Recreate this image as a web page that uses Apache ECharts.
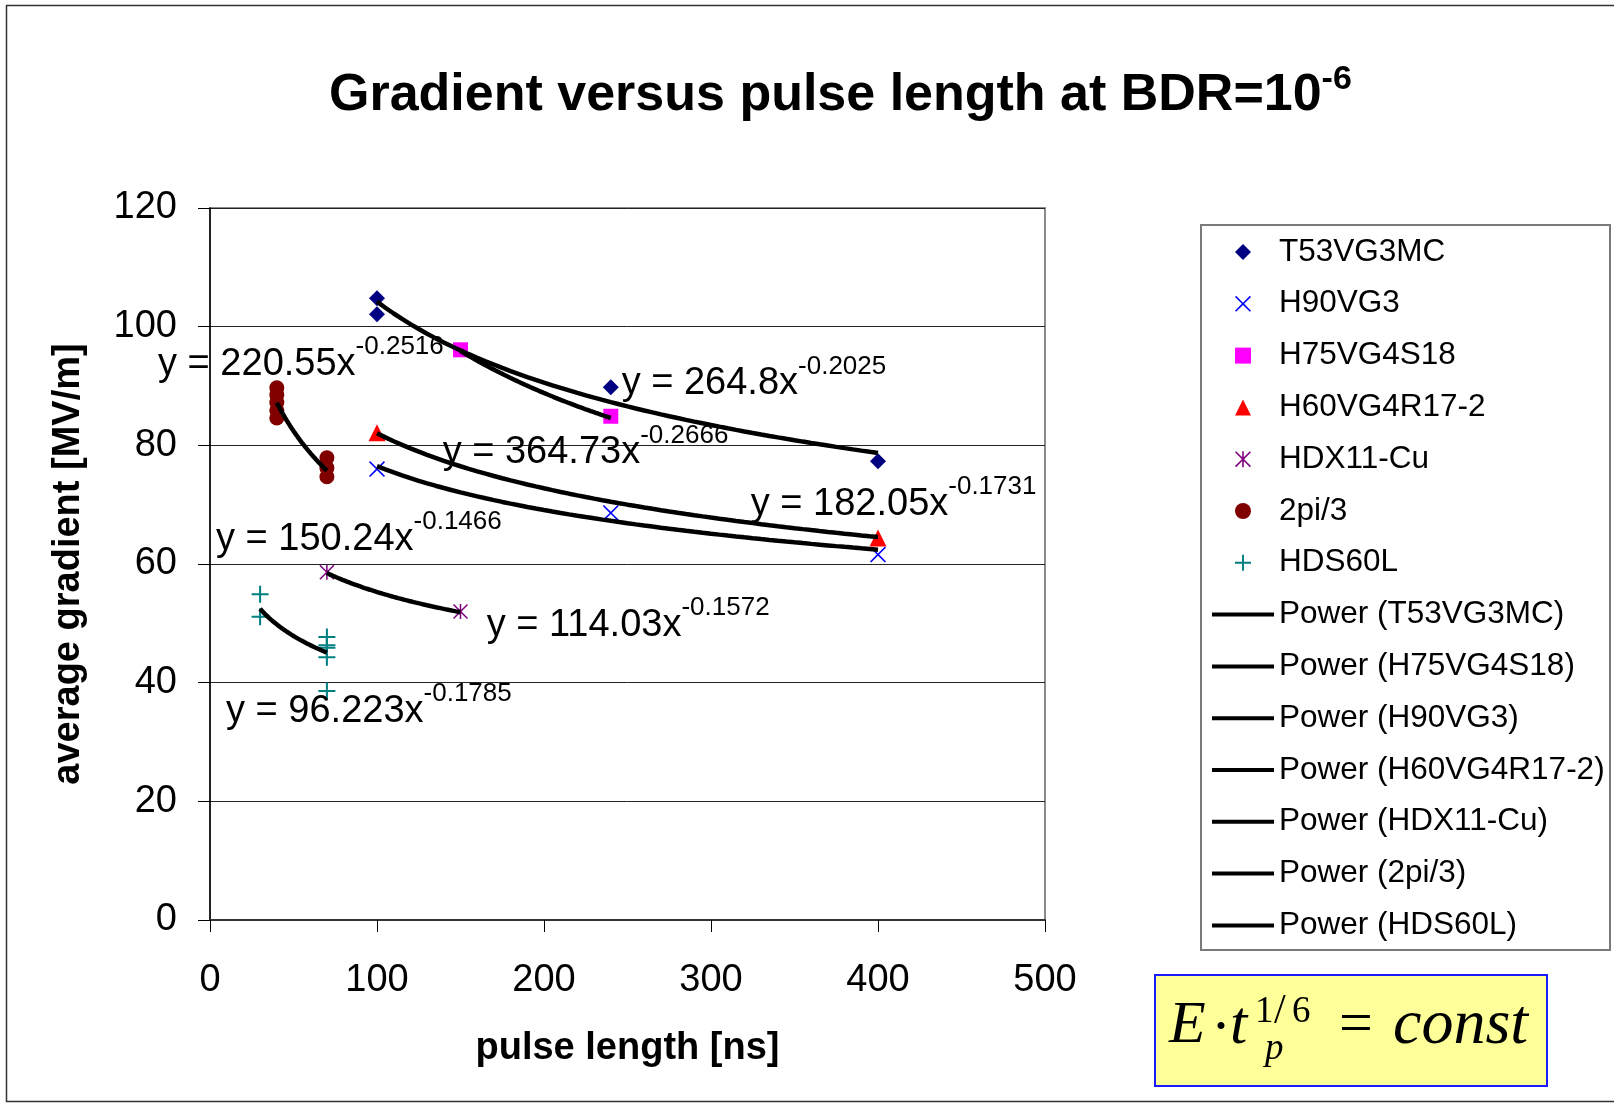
<!DOCTYPE html>
<html>
<head>
<meta charset="utf-8">
<script src="https://cdn.jsdelivr.net/npm/echarts@6/dist/echarts.min.js"></script>
<style>
html, body { margin: 0; padding: 0; background: #fff; }
#chart { width: 1614px; height: 1103px; }
</style>
</head>
<body>
<div id="chart"></div>
<script>
// ---- measured structures: gradient [MV/m] at pulse length [ns] ----
const seriesNames = ['T53VG3MC', 'H90VG3', 'H75VG4S18', 'H60VG4R17-2', 'HDX11-Cu', '2pi/3', 'HDS60L'];
const t53vg3mc = [[100, 104.8], [100, 102.1], [240, 89.8], [400, 77.3]];
const h90vg3 = [[100, 76.0], [240, 68.6], [400, 61.6]];
const h75vg4s18 = [[150, 96.1], [240, 84.9]];
const h60vg4r17 = [[100, 82.1], [400, 64.4]];
const hdx11cu = [[70, 58.6], [150, 52.0]];
const twoPi3 = [[40, 89.7], [40, 88.5], [40, 87.2], [40, 85.9], [40, 84.6], [70, 77.9], [70, 76.2], [70, 74.7]];
const hds60l = [[30, 54.9], [30, 51.1], [70, 47.7], [70, 46.3], [70, 45.9], [70, 44.3], [70, 38.6]];
const seriesData = [t53vg3mc, h90vg3, h75vg4s18, h60vg4r17, hdx11cu, twoPi3, hds60l];

// ---- power-law trend lines y = a * x^b ----
const fitNames = ['Power (T53VG3MC)', 'Power (H75VG4S18)', 'Power (H90VG3)', 'Power (H60VG4R17-2)',
                  'Power (HDX11-Cu)', 'Power (2pi/3)', 'Power (HDS60L)'];
const fitA = [264.8, 364.73, 150.24, 182.05, 114.03, 220.55, 96.223];
const fitB = [-0.2025, -0.2666, -0.1466, -0.1731, -0.1572, -0.2516, -0.1785];
const fitFrom = [100, 150, 100, 100, 70, 40, 30];
const fitTo = [400, 240, 400, 400, 150, 70, 70];

// ---- axis ticks ----
const xTicks = [0, 100, 200, 300, 400, 500];
const yTicks = [0, 20, 40, 60, 80, 100, 120];

// ---- styling / layout ----
const FONT = "'Liberation Sans', Arial, sans-serif";
const SERIF = "'Liberation Serif', 'Times New Roman', serif";
const markerColors = ['#000080', '#0000FF', '#FF00FF', '#FF0000', '#800080', '#800000', '#008080'];
const markerSymbols = [
  'path://M50,0L100,50L50,100L0,50Z',
  'path://M0,7L7,0L50,43L93,0L100,7L57,50L100,93L93,100L50,57L7,100L0,93L43,50Z',
  'path://M0,0H100V100H0Z',
  'path://M50,0L100,100L0,100Z',
  'path://M0,7L7,0L50,43L93,0L100,7L57,50L100,93L93,100L50,57L7,100L0,93L43,50Z M45,0H55V100H45Z',
  'circle',
  'path://M44,0H56V44H100V56H56V100H44V56H0V44H44Z'
];
const markerSizes = [16, 16, 15, 17, 15, 15, 17];
// where each equation label sits (data coordinates of its left/middle point)
const eqAnchor = [[246.5, 90.4], [139.3, 78.8], [3.6, 64.2], [323.8, 70.1], [165.7, 49.7], [-31.1, 93.7], [9.6, 35.2]];

const GRID = { left: 210, top: 208, width: 835, height: 712 };

function fitCurve(i) {
  const pts = [];
  const n = 60;
  for (let k = 0; k <= n; k++) {
    const x = fitFrom[i] + (fitTo[i] - fitFrom[i]) * k / n;
    pts.push([x, fitA[i] * Math.pow(x, fitB[i])]);
  }
  return pts;
}

const series = [];
seriesNames.forEach((name, i) => {
  series.push({
    name: name,
    type: 'scatter',
    data: seriesData[i],
    symbol: markerSymbols[i],
    symbolSize: markerSizes[i],
    itemStyle: { color: markerColors[i], opacity: 1 },
    z: 2,
    silent: true
  });
});
fitNames.forEach((name, i) => {
  series.push({
    name: name,
    type: 'line',
    data: fitCurve(i),
    symbol: 'none',
    showSymbol: false,
    smooth: false,
    lineStyle: { color: '#000', width: 4.5 },
    itemStyle: { color: '#000' },
    z: 3,
    silent: true
  });
});
series.push({
  name: 'equations',
  type: 'scatter',
  data: eqAnchor,
  symbolSize: 0,
  clip: false,
  silent: true,
  z: 4,
  itemStyle: { color: '#000', opacity: 1 },
  label: {
    show: true,
    position: 'right',
    distance: 0,
    color: '#000',
    opacity: 1,
    formatter: (p) => '{m|y = ' + String(fitA[p.dataIndex]) + 'x}{s|' + String(fitB[p.dataIndex]) + '}',
    rich: {
      m: { fontFamily: FONT, fontSize: 38, lineHeight: 38, color: '#000' },
      s: { fontFamily: FONT, fontSize: 26, lineHeight: 26, color: '#000', padding: [0, 0, 34, 0] }
    }
  }
});

const legendData = seriesNames.map(n => ({ name: n }))
  .concat(fitNames.map(n => ({ name: n, icon: 'path://M0,0H62V4H0Z' })));

const serifText = (txt, x, y, font, align) => ({
  type: 'text', x: x, y: y,
  style: { text: txt, font: font, fill: '#000', align: align, textAlign: align, verticalAlign: 'middle', textVerticalAlign: 'middle' }
});

const option = {
  backgroundColor: '#fff',
  animation: false,
  grid: Object.assign({ show: true, borderColor: '#8a8a8a', borderWidth: 2, backgroundColor: 'transparent' }, GRID),
  xAxis: {
    type: 'value', min: xTicks[0], max: xTicks[xTicks.length - 1], interval: 100,
    name: 'pulse length [ns]', nameLocation: 'middle', nameGap: 110,
    nameTextStyle: { fontFamily: FONT, fontSize: 38, fontWeight: 'bold', color: '#000' },
    axisLine: { show: true, lineStyle: { color: '#333', width: 2 } },
    axisTick: { show: true, inside: false, length: 12, lineStyle: { color: '#000', width: 1 } },
    axisLabel: { fontFamily: FONT, fontSize: 38, color: '#000', margin: 42 },
    splitLine: { show: false }
  },
  yAxis: {
    type: 'value', min: yTicks[0], max: yTicks[yTicks.length - 1], interval: 20,
    name: 'average gradient [MV/m]', nameLocation: 'middle', nameGap: 122,
    nameTextStyle: { fontFamily: FONT, fontSize: 38, fontWeight: 'bold', color: '#000' },
    axisLine: { show: true, lineStyle: { color: '#000', width: 1.5 } },
    axisTick: { show: true, inside: false, length: 12, lineStyle: { color: '#000', width: 1 } },
    axisLabel: { fontFamily: FONT, fontSize: 38, color: '#000', margin: 33 },
    splitLine: { show: true, lineStyle: { color: '#222', width: 1 } }
  },
  legend: {
    data: legendData,
    orient: 'vertical',
    left: 1212, top: 235, padding: 0,
    itemWidth: 62, itemHeight: 16, itemGap: 17.8,
    selectedMode: false,
    textStyle: { fontFamily: FONT, fontSize: 31.5, lineHeight: 34, color: '#000' },
    z: 6
  },
  graphic: [
    // outer frame
    { type: 'rect', z: 0, silent: true, shape: { x: 6.5, y: 5.5, width: 1620, height: 1096 },
      style: { fill: 'none', stroke: '#333', lineWidth: 1.5 } },
    // legend frame
    { type: 'rect', z: 5, silent: true, shape: { x: 1201, y: 225, width: 409, height: 725 },
      style: { fill: '#fff', stroke: '#7a7a7a', lineWidth: 2 } },
    // title
    { type: 'text', z: 10, silent: true, x: 329, y: 95.5,
      style: {
        text: '{m|Gradient versus pulse length at BDR=10}{s|-6}',
        align: 'left', textAlign: 'left', verticalAlign: 'middle', textVerticalAlign: 'middle',
        rich: {
          m: { fontFamily: FONT, fontSize: 52, fontWeight: 'bold', lineHeight: 52, fill: '#000', color: '#000' },
          s: { fontFamily: FONT, fontSize: 34, fontWeight: 'bold', lineHeight: 34, fill: '#000', color: '#000', padding: [0, 0, 32, 0] }
        }
      } },
    // scaling law box
    { type: 'group', z: 10, silent: true, children: [
      { type: 'rect', shape: { x: 1155, y: 975, width: 392, height: 111 },
        style: { fill: '#FFFF99', stroke: '#1a1aff', lineWidth: 2 } },
      serifText('E', 1169, 1026.5, 'italic 60px ' + SERIF, 'left'),
      serifText('\u00B7', 1221, 1029, '60px ' + SERIF, 'center'),
      serifText('t', 1230, 1026.5, 'italic 62px ' + SERIF, 'left'),
      serifText('1', 1255, 1012, '37px ' + SERIF, 'left'),
      serifText('/', 1274, 1012, '42px ' + SERIF, 'left'),
      serifText('6', 1292, 1012, '37px ' + SERIF, 'left'),
      serifText('p', 1265, 1049.5, 'italic 37px ' + SERIF, 'left'),
      serifText('=', 1356, 1026.5, '60px ' + SERIF, 'center'),
      serifText('const', 1393, 1026.5, 'italic 64px ' + SERIF, 'left')
    ] }
  ],
  series: series
};

const chart = echarts.init(document.getElementById('chart'), null, { renderer: 'canvas' });
chart.setOption(option);
</script>
</body>
</html>
